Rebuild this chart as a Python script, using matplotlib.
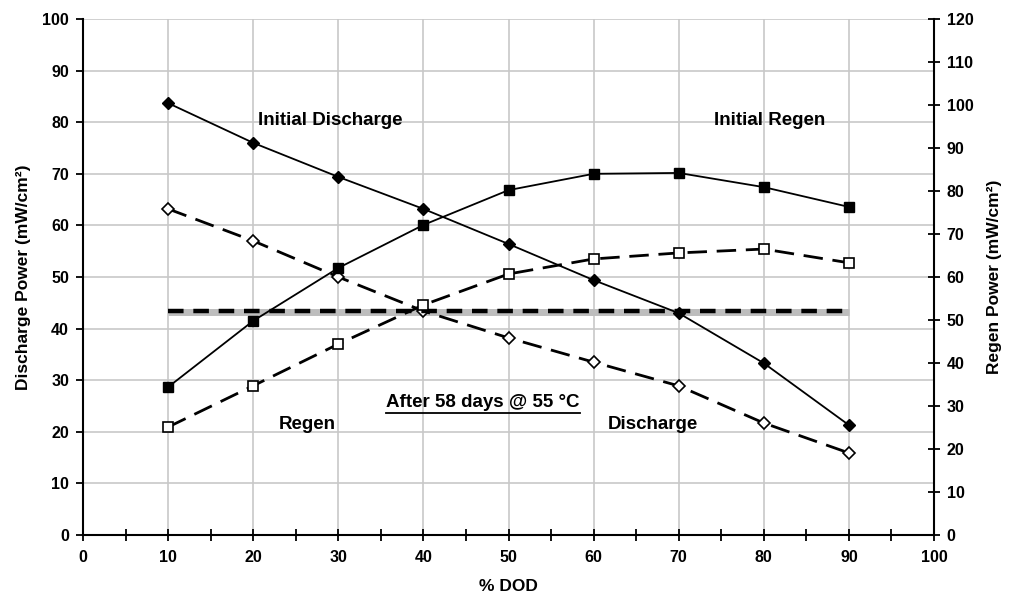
import matplotlib

matplotlib.use("Agg")
import matplotlib.pyplot as plt
from matplotlib.lines import Line2D

plt.rcParams["font.family"] = ["Liberation Sans", "DejaVu Sans"]
plt.rcParams["font.weight"] = "bold"

dod = [10, 20, 30, 40, 50, 60, 70, 80, 90]
initial_discharge = [83.7, 76.0, 69.4, 63.2, 56.4, 49.4, 43.0, 33.3, 21.3]
aged_discharge = [63.2, 57.0, 50.0, 43.4, 38.2, 33.5, 28.9, 21.7, 15.9]
initial_regen = [34.4, 49.8, 62.1, 72.1, 80.2, 84.0, 84.2, 80.9, 76.3]
aged_regen = [25.1, 34.7, 44.4, 53.5, 60.7, 64.2, 65.6, 66.5, 63.3]
target_dod = [10, 90]
discharge_target = [43.3, 43.3]
regen_target = [52.0, 52.0]

fig = plt.figure(figsize=(10.21, 5.99), dpi=100)
ax = fig.add_axes([83 / 1021, 64 / 599, 851 / 1021, 516 / 599])
ax2 = ax.twinx()

ax.set_xlim(0, 100)
ax.set_ylim(0, 100)
ax2.set_ylim(0, 120)
ax.set_xticks(range(0, 101, 10))
ax.set_xticks(range(5, 100, 10), minor=True)
ax.set_yticks(range(0, 101, 10))
ax2.set_yticks(range(0, 121, 10))
ax.grid(True, color="#c8c8c8", linewidth=1.2)
ax.set_axisbelow(True)

for a in (ax, ax2):
    a.spines["top"].set_visible(False)
    for side in ("left", "right", "bottom"):
        a.spines[side].set_linewidth(1.5)
ax.spines["right"].set_visible(False)
ax2.spines["left"].set_visible(False)
ax2.spines["bottom"].set_visible(False)

ax.tick_params(axis="x", which="both", direction="inout", length=8, width=1.3, labelsize=11.5, pad=7)
ax.tick_params(axis="y", direction="out", length=5, width=1.3, labelsize=11.5, pad=5)
ax2.tick_params(axis="y", direction="inout", length=8, width=1.3, labelsize=11.5, pad=5)

# reference lines
ax.plot(target_dod, discharge_target, color="#bdbdbd", linewidth=5, solid_capstyle="butt", zorder=2)
ax2.plot(target_dod, regen_target, color="black", linewidth=3.2, dashes=(3.5, 2.2), zorder=3)

ax.plot(dod, initial_discharge, color="black", linewidth=1.3, marker="D", markersize=6.5, zorder=4)
ax.plot(dod, aged_discharge, color="black", linewidth=2, dashes=(7, 3.5), marker="D",
        markersize=6.5, markerfacecolor="white", markeredgewidth=1.2, zorder=4)
ax2.plot(dod, initial_regen, color="black", linewidth=1.3, marker="s", markersize=6.5, zorder=4)
ax2.plot(dod, aged_regen, color="black", linewidth=2, dashes=(7, 3.5), marker="s",
         markersize=6.5, markerfacecolor="white", markeredgewidth=1.2, zorder=4)

ax.set_xlabel("% DOD", fontsize=12.5, fontweight="bold", labelpad=10)
ax.set_ylabel("Discharge Power (mW/cm²)", fontsize=12.5, fontweight="bold", labelpad=8)
ax2.set_ylabel("Regen Power (mW/cm²)", fontsize=12.5, fontweight="bold", labelpad=10)

ax.text(29.1, 80.3, "Initial Discharge", fontsize=13.5, fontweight="bold", ha="center", va="center")
ax.text(80.7, 80.3, "Initial Regen", fontsize=13.5, fontweight="bold", ha="center", va="center")
ax.text(26.4, 21.4, "Regen", fontsize=13.5, fontweight="bold", ha="center", va="center")
ax.text(67.0, 21.4, "Discharge", fontsize=13.5, fontweight="bold", ha="center", va="center")
note = ax.text(47.0, 25.6, "After 58 days @ 55 °C", fontsize=13.5, fontweight="bold",
               ha="center", va="center", zorder=5)

# underline the note
fig.canvas.draw()
bb = note.get_window_extent().transformed(fig.transFigure.inverted())
fig.add_artist(Line2D([bb.x0, bb.x1], [bb.y0 - 0.002, bb.y0 - 0.002],
                      transform=fig.transFigure, color="black", linewidth=1.3))

fig.savefig("out.png", dpi=100)
